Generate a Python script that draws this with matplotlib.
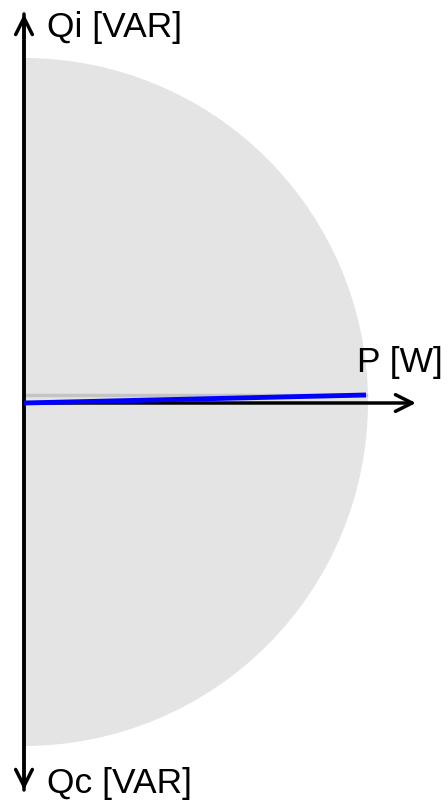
import matplotlib
matplotlib.use("Agg")
import matplotlib.pyplot as plt
from matplotlib.patches import Wedge

# pixel-space values
origin = [24, 402]
s_radius = 344
axis_top = 14
axis_bottom = 790
axis_right = 416
gray_line_x = [24, 366]
gray_line_y = [395, 395]
blue_line_x = [24, 366]
blue_line_y = [403, 395]
labels = ["Qi [VAR]", "Qc [VAR]", "P [W]"]

plt.rcParams['font.family'] = ['Liberation Sans', 'DejaVu Sans']

fig = plt.figure(figsize=(4.48, 8), dpi=100)
ax = fig.add_axes([0, 0, 1, 1])
ax.set_xlim(0, 448)
ax.set_ylim(800, 0)
ax.axis('off')

ax.add_patch(Wedge(origin, s_radius, -90, 90, facecolor='#e4e4e4', edgecolor='none', zorder=1))

ax.plot(gray_line_x, gray_line_y, color='#c4c4c4', lw=2.5, zorder=2)

arrow = dict(arrowstyle='->', color='black', lw=2.5, mutation_scale=30, shrinkA=0, shrinkB=0)
ax.annotate('', xy=(origin[0], axis_top), xytext=(origin[0], axis_bottom), arrowprops=arrow, zorder=3)
ax.annotate('', xy=(origin[0], axis_bottom), xytext=(origin[0], axis_top), arrowprops=arrow, zorder=3)
ax.annotate('', xy=(axis_right, origin[1] + 1), xytext=(origin[0], origin[1] + 1), arrowprops=arrow, zorder=3)

ax.plot(blue_line_x, blue_line_y, color='#0000ff', lw=3.5, solid_capstyle='butt', zorder=4)

ax.text(47, 37, labels[0], fontsize=25.5, va='baseline', ha='left')
ax.text(47, 793, labels[1], fontsize=25.5, va='baseline', ha='left')
ax.text(357, 372, labels[2], fontsize=25.5, va='baseline', ha='left')

fig.savefig('out.png', dpi=100)
